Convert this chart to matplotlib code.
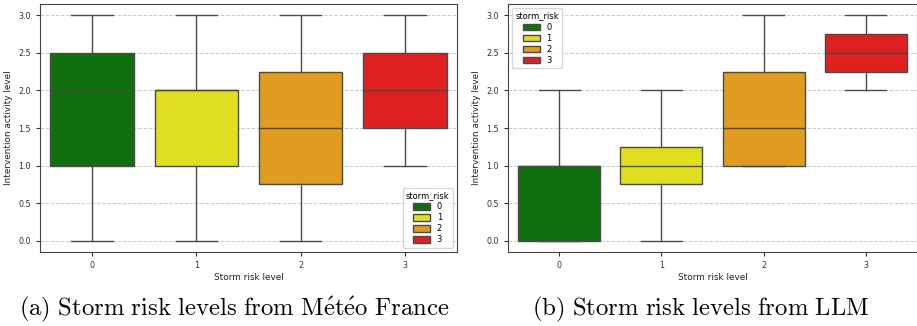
import matplotlib
matplotlib.use('Agg')
import matplotlib.pyplot as plt
from matplotlib.patches import Patch
from matplotlib.colors import to_rgb
import colorsys

plt.rcParams['mathtext.fontset'] = 'cm'

# storm risk categories
levels = [0, 1, 2, 3]
palette = ['green', 'yellow', 'orange', 'red']

# box statistics: (whislo, q1, med, q3, whishi)
meteo_whislo = [0, 0, 0, 1]
meteo_q1 = [1, 1, 0.75, 1.5]
meteo_med = [2, 2, 1.5, 2]
meteo_q3 = [2.5, 2, 2.25, 2.5]
meteo_whishi = [3, 3, 3, 3]

llm_whislo = [0, 0, 1, 2]
llm_q1 = [0, 0.75, 1, 2.25]
llm_med = [1, 1, 1.5, 2.5]
llm_q3 = [1, 1.25, 2.25, 2.75]
llm_whishi = [2, 2, 3, 3]

# captions (Computer Modern via mathtext)
captions = [r'$\mathrm{(a)\ Storm\ risk\ levels\ from\ M\acute{e}t\acute{e}o\ France}$',
            r'$\mathrm{(b)\ Storm\ risk\ levels\ from\ LLM}$']


def desat(c, prop=0.75):
    # seaborn-style desaturation
    h, l, s = colorsys.rgb_to_hls(*to_rgb(c))
    return colorsys.hls_to_rgb(h, l, s * prop)


colors = [desat(c) for c in palette]
line_col = '#4a4a4a'

fig = plt.figure(figsize=(9.17, 3.26), dpi=100)
ax1 = fig.add_axes([40 / 917, 1 - 252 / 326, 417 / 917, 248 / 326])
ax2 = fig.add_axes([508 / 917, 1 - 252 / 326, 409 / 917, 248 / 326])


def draw(ax, lo, q1, med, q3, hi, legend_loc):
    stats = []
    for i in range(len(levels)):
        stats.append(dict(whislo=lo[i], q1=q1[i], med=med[i], q3=q3[i],
                          whishi=hi[i], fliers=[]))
    bp = ax.bxp(stats, positions=levels, widths=0.8, patch_artist=True,
                showfliers=False,
                boxprops=dict(edgecolor=line_col, linewidth=1.0),
                medianprops=dict(color=line_col, linewidth=1.0),
                whiskerprops=dict(color=line_col, linewidth=1.0),
                capprops=dict(color=line_col, linewidth=1.0))
    for patch, c in zip(bp['boxes'], colors):
        patch.set_facecolor(c)
    for cap in bp['caps']:
        x = cap.get_xdata()
        m = (x[0] + x[1]) / 2
        cap.set_xdata([m - 0.2, m + 0.2])
    ax.set_xlim(-0.5, 3.5)
    ax.set_ylim(-0.15, 3.15)
    ax.set_xticks(levels)
    ax.set_xticklabels([str(l) for l in levels])
    ax.set_yticks([0, 0.5, 1.0, 1.5, 2.0, 2.5, 3.0])
    ax.set_yticklabels(['0.0', '0.5', '1.0', '1.5', '2.0', '2.5', '3.0'])
    ax.tick_params(labelsize=5.8, color='#333333', labelcolor='#333333', length=3, width=0.8)
    ax.grid(axis='y', linestyle='--', color='#cccccc', linewidth=0.7)
    ax.set_axisbelow(True)
    ax.set_xlabel('Storm risk level', fontsize=6.4, labelpad=2, color='#222222')
    ax.set_ylabel('Intervention activity level', fontsize=6.4, labelpad=4, color='#222222')
    for s in ax.spines.values():
        s.set_color('#444444')
        s.set_linewidth(0.8)
    handles = [Patch(facecolor=c, edgecolor=line_col, label=str(l))
               for c, l in zip(colors, levels)]
    ax.legend(handles=handles, title='storm_risk', loc=legend_loc,
              fontsize=6, title_fontsize=6, handlelength=2.0,
              handleheight=0.8, labelspacing=0.25, borderpad=0.4)


draw(ax1, meteo_whislo, meteo_q1, meteo_med, meteo_q3, meteo_whishi, 'lower right')
draw(ax2, llm_whislo, llm_q1, llm_med, llm_q3, llm_whishi, 'upper left')

fig.text(234 / 917, 1 - 309 / 326, captions[0], fontsize=17.8, ha='center', va='center')
fig.text(701 / 917, 1 - 309 / 326, captions[1], fontsize=17.8, ha='center', va='center')

fig.savefig('out.png', dpi=100)
